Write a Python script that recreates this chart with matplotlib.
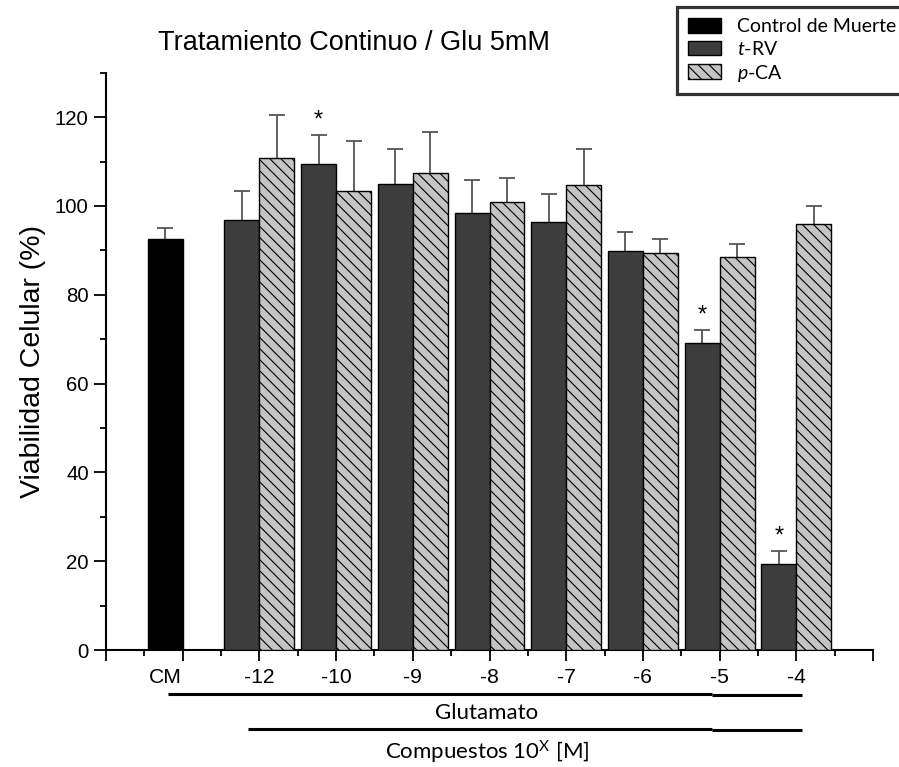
import numpy as np
import matplotlib

matplotlib.use("Agg")
import matplotlib.pyplot as plt

plt.rcParams["font.family"] = ["Liberation Sans", "DejaVu Sans"]
plt.rcParams["mathtext.fontset"] = "custom"
plt.rcParams["mathtext.rm"] = "Lato"
plt.rcParams["mathtext.it"] = "Lato:italic"
plt.rcParams["hatch.color"] = "#505050"
plt.rcParams["hatch.linewidth"] = 0.8

# values (Viabilidad Celular, %)
group_labels = ["CM", "-12", "-10", "-9", "-8", "-7", "-6", "-5", "-4"]
cm_value = 92.5
cm_err = 2.5
trv_values = [96.8, 109.5, 104.9, 98.3, 96.3, 89.9, 69.2, 19.3]
trv_err = [6.5, 6.5, 7.9, 7.6, 6.3, 4.3, 2.9, 3.0]
pca_values = [110.7, 103.4, 107.4, 100.8, 104.8, 89.5, 88.6, 95.9]
pca_err = [9.7, 11.2, 9.3, 5.4, 8.1, 3.1, 2.8, 4.1]
trv_signif = [False, True, False, False, False, False, True, True]

width = 0.456
groups = np.arange(1, len(trv_values) + 1)

fig = plt.figure(figsize=(8.99, 7.67), dpi=100)
ax = fig.add_axes([106 / 899, 117 / 767, 767 / 899, 577.3 / 767])

cm_bar = ax.bar([0], [cm_value], width, align="edge", color="black",
                edgecolor="black", linewidth=1.0, zorder=3)
trv_bars = ax.bar(groups - width, trv_values, width, align="edge",
                  color="#3d3d3d", edgecolor="black", linewidth=1.0, zorder=3)
pca_bars = ax.bar(groups, pca_values, width, align="edge", color="#c4c4c4",
                  edgecolor="black", linewidth=1.0, hatch="\\\\\\", zorder=3)
# CM bar sits left of its tick
cm_bar[0].set_x(-width)


def up_errors(xs, ys, errs):
    res = ax.errorbar(xs, ys, yerr=[np.zeros(len(errs)), errs], fmt="none",
                      ecolor="#555555", elinewidth=1.3, capsize=6,
                      capthick=1.3, zorder=2)
    res[1][0].set_visible(False)


up_errors([-width / 2], [cm_value], [cm_err])
up_errors(groups - width / 2, trv_values, trv_err)
up_errors(groups + width / 2, pca_values, pca_err)

for x, v, e, s in zip(groups - width / 2, trv_values, trv_err, trv_signif):
    if s:
        ax.text(x, v + e + 1.8, "*", ha="center", va="baseline", fontsize=17)

ax.set_xlim(-1, 9)
ax.set_ylim(0, 130)
ax.set_xticks(np.arange(-1, 10))
ax.set_xticks(np.arange(-0.5, 9, 1), minor=True)
ax.set_xticklabels([])
ax.set_yticks(np.arange(0, 121, 20))
ax.set_yticks(np.arange(10, 131, 20), minor=True)
ax.tick_params(axis="y", which="major", length=8.5, width=1.3,
               labelsize=14.7, pad=4)
ax.tick_params(axis="y", which="minor", length=4.5, width=1.3)
ax.tick_params(axis="x", which="major", length=8, width=1.3)
ax.tick_params(axis="x", which="minor", length=4, width=1.3)
for side in ("top", "right"):
    ax.spines[side].set_visible(False)
for side in ("left", "bottom"):
    ax.spines[side].set_linewidth(1.5)

label_pos = [-width / 2] + list(groups)
for x, lab in zip(label_pos, group_labels):
    ax.text(x, -0.047, lab, transform=ax.get_xaxis_transform(),
            ha="center", va="center", fontsize=15.2)

# brackets under the axis
tr = ax.get_xaxis_transform()
ax.plot([-0.195, 6.9], [-0.0765, -0.0765], color="black", lw=2.2,
        transform=tr, clip_on=False, solid_capstyle="butt")
ax.plot([6.9, 8.08], [-0.0785, -0.0785], color="black", lw=2.2,
        transform=tr, clip_on=False, solid_capstyle="butt")
ax.plot([0.847, 6.9], [-0.137, -0.137], color="black", lw=2.2,
        transform=tr, clip_on=False, solid_capstyle="butt")
ax.plot([6.9, 8.08], [-0.139, -0.139], color="black", lw=2.2,
        transform=tr, clip_on=False, solid_capstyle="butt")

fig.text(487 / 899, 1 - 713 / 767, "Glutamato", ha="center", va="center",
         fontsize=16, family="Lato")
fig.text(487 / 899, 1 - 752 / 767, r"Compuestos 10$^{\mathrm{X}}$ [M]",
         ha="center", va="center", fontsize=16, family="Lato")

fig.text(354 / 899, 1 - 43 / 767, "Tratamiento Continuo / Glu 5mM",
         ha="center", va="center", fontsize=19.5)
fig.text(33 / 899, 1 - 361 / 767, "Viabilidad Celular (%)", rotation=90,
         ha="center", va="center", fontsize=20.5)

leg = fig.legend([cm_bar, trv_bars, pca_bars],
                 ["Control de Muerte", "$t$-RV", "$p$-CA"],
                 loc="upper left", bbox_to_anchor=(677 / 899, 1 - 7 / 767),
                 borderaxespad=0, fancybox=False, frameon=True,
                 prop={"family": "Lato", "size": 14},
                 handlelength=1.7, handleheight=0.8, handletextpad=0.85,
                 labelspacing=0.25, borderpad=0.55)
leg.get_frame().set_edgecolor("black")
leg.get_frame().set_linewidth(2.3)

fig.savefig("out.png", dpi=100)
